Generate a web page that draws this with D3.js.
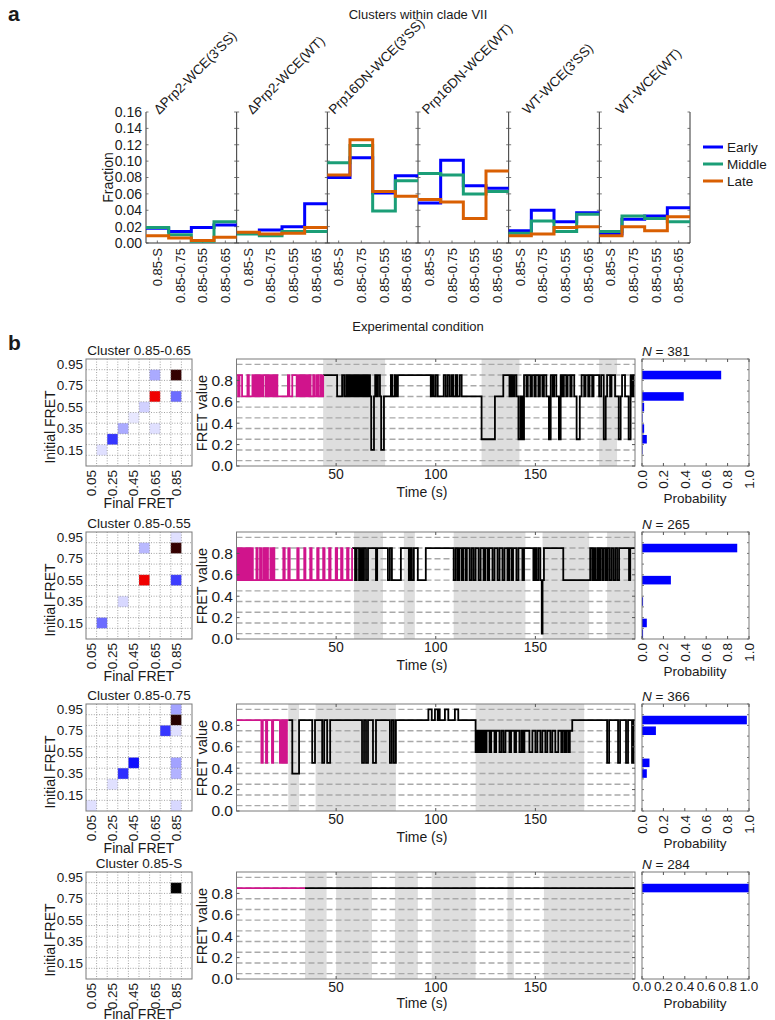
<!DOCTYPE html>
<meta charset="utf-8">
<script src="https://d3js.org/d3.v7.min.js"></script>
<style>
body { margin: 0; background: #fff; }
svg text { font-family: "Liberation Sans", Arial, sans-serif; fill: #1a1a1a; }
</style>
<div id="fig"></div>
<script>
// ---------- panel a data ----------
var conditions = ["\u0394Prp2-WCE(3'SS)", "\u0394Prp2-WCE(WT)", "Prp16DN-WCE(3'SS)",
                  "Prp16DN-WCE(WT)", "WT-WCE(3'SS)", "WT-WCE(WT)"];
var clusterNames = ["0.85-S", "0.85-0.75", "0.85-0.55", "0.85-0.65"];
var fractionTicks = [0, 0.02, 0.04, 0.06, 0.08, 0.10, 0.12, 0.14, 0.16];
var seriesNames = ["Early", "Middle", "Late"];
var early = [0.018, 0.014, 0.019, 0.022,  0.012, 0.016, 0.020, 0.048,
             0.080, 0.104, 0.061, 0.082,  0.049, 0.101, 0.070, 0.067,
             0.015, 0.040, 0.026, 0.037,  0.011, 0.029, 0.033, 0.043];
var middle = [0.019, 0.010, 0.002, 0.026,  0.011, 0.009, 0.014, 0.014,
              0.098, 0.119, 0.039, 0.076,  0.085, 0.083, 0.060, 0.063,
              0.012, 0.027, 0.014, 0.035,  0.014, 0.033, 0.030, 0.026];
var late = [0.009, 0.006, 0.003, 0.007,  0.013, 0.011, 0.012, 0.019,
            0.083, 0.126, 0.063, 0.057,  0.053, 0.050, 0.030, 0.088,
            0.009, 0.011, 0.019, 0.020,  0.009, 0.020, 0.015, 0.032];

// ---------- panel b data ----------
var rowClusters = ["Cluster 0.85-0.65", "Cluster 0.85-0.55", "Cluster 0.85-0.75", "Cluster 0.85-S"];
var rowN = [381, 265, 366, 284];
var fretLevels = [0.05, 0.15, 0.25, 0.35, 0.45, 0.55, 0.65, 0.75, 0.85, 0.95];
var heatTicks = [0.05, 0.25, 0.45, 0.65, 0.85];
var heatYTicks = [0.15, 0.35, 0.55, 0.75, 0.95];
var fretTicks = [0, 0.2, 0.4, 0.6, 0.8];
var timeTicks = [50, 100, 150];
var probTicks = [0, 0.2, 0.4, 0.6, 0.8, 1.0];

// transition density maps: [final FRET, initial FRET, intensity 0..1]
var heat1 = [[0.85, 0.85, 0.93], [0.65, 0.85, 0.11], [0.65, 0.65, 0.68], [0.85, 0.65, 0.19],
             [0.55, 0.55, 0.06], [0.45, 0.45, 0.03], [0.35, 0.35, 0.11], [0.65, 0.35, 0.04],
             [0.25, 0.25, 0.26], [0.15, 0.15, 0.04]];
var heat2 = [[0.85, 0.95, 0.04], [0.85, 0.85, 0.93], [0.55, 0.85, 0.09], [0.55, 0.55, 0.68],
             [0.85, 0.55, 0.25], [0.35, 0.35, 0.05], [0.15, 0.15, 0.19]];
var heat3 = [[0.85, 0.95, 0.12], [0.85, 0.85, 0.95], [0.75, 0.75, 0.26], [0.85, 0.75, 0.04],
             [0.45, 0.45, 0.31], [0.35, 0.35, 0.27], [0.85, 0.45, 0.12], [0.85, 0.35, 0.10],
             [0.25, 0.25, 0.04], [0.05, 0.05, 0.04], [0.85, 0.05, 0.05]];
var heat4 = [[0.85, 0.85, 1.0]];

// shaded time windows (s)
var shade1 = [[43.5, 74.6], [123, 142], [182, 191]];
var shade2 = [[59, 73.5], [84, 89.5], [109, 145], [153.6, 177], [186, 200]];
var shade3 = [[26, 31.4], [39.7, 80], [120, 174.5]];
var shade4 = [[34.4, 45.2], [50, 68], [79.5, 91], [98, 120], [136, 139.2], [154.3, 199]];

// end of the magenta (first) segment of each trace
var magentaEnd = [43.5, 58, 26, 34.4];

// idealised FRET traces: [time (s), FRET level from that time on]
var trace1 = [[0, 0.85], [0.8, 0.65], [1.5, 0.85], [2.8, 0.65], [5.5, 0.85], [6.2, 0.65], [8, 0.85], [8.6, 0.65],
  [9.3, 0.85], [10, 0.65], [10.6, 0.85], [11.4, 0.65], [12, 0.85], [12.7, 0.65], [13.4, 0.85], [14.6, 0.65],
  [15.5, 0.85], [16.2, 0.65], [17, 0.85], [17.6, 0.65], [18.4, 0.85], [19, 0.65], [19.8, 0.85], [20.5, 0.65],
  [25.8, 0.85], [26.5, 0.65], [28, 0.85], [30.2, 0.65], [30.8, 0.85], [31.5, 0.65], [32.3, 0.85], [33, 0.65],
  [33.5, 0.85], [34.2, 0.65], [35, 0.85], [35.6, 0.65], [36.3, 0.85], [37.2, 0.65], [38.5, 0.85], [39.2, 0.65],
  [40.2, 0.85], [41, 0.65], [42, 0.85], [42.8, 0.65], [43.5, 0.85],
  [50.5, 0.65], [53, 0.85], [54, 0.65], [55, 0.85], [55.8, 0.65], [56.5, 0.85], [57.2, 0.65], [58, 0.85],
  [58.6, 0.65], [59.2, 0.85], [60, 0.65], [60.6, 0.85], [61.4, 0.65], [62, 0.85], [62.8, 0.65], [63.4, 0.85],
  [64, 0.65], [64.8, 0.85], [65.5, 0.65], [66.2, 0.85], [67, 0.65], [67.6, 0.15], [69, 0.65], [69.6, 0.85],
  [70.5, 0.65], [71, 0.85], [72, 0.65], [72.6, 0.15], [74, 0.65], [77.5, 0.85], [78.3, 0.65], [79.5, 0.85],
  [80.2, 0.65], [81, 0.85], [97.5, 0.65], [98.2, 0.85], [99, 0.65], [100, 0.85], [101, 0.65], [104, 0.85],
  [105, 0.65], [106, 0.85], [107, 0.65], [108, 0.85], [108.8, 0.65], [110, 0.85], [110.8, 0.65], [112, 0.85],
  [113, 0.65], [123, 0.25], [129.7, 0.65], [133.9, 0.85], [137, 0.65], [137.8, 0.85], [138.6, 0.65],
  [139.5, 0.85], [140.5, 0.65], [141.5, 0.25], [142.5, 0.65], [143.4, 0.25], [144.3, 0.85], [145.5, 0.65],
  [146.2, 0.85], [147.5, 0.65], [148.3, 0.85], [149.5, 0.65], [150.2, 0.85], [151.5, 0.65], [152.3, 0.85],
  [153.5, 0.65], [154.3, 0.85], [155.5, 0.65], [156.8, 0.25], [157.7, 0.85], [158.7, 0.65], [159.4, 0.85],
  [160.5, 0.65], [161.8, 0.25], [162.7, 0.85], [163.6, 0.65], [164.3, 0.85], [165.5, 0.65], [166.2, 0.85],
  [167.5, 0.65], [168.2, 0.85], [169.5, 0.65], [170.7, 0.25], [172.3, 0.65], [173.2, 0.85], [174.5, 0.65],
  [175.2, 0.85], [176.5, 0.65], [177.2, 0.85], [178.5, 0.65], [179.2, 0.85], [182, 0.65], [183, 0.85],
  [184.3, 0.25], [185.3, 0.65], [186, 0.85], [187.5, 0.65], [188.2, 0.85], [190, 0.65], [191.8, 0.25],
  [192.8, 0.65], [193.5, 0.85], [195, 0.65], [196.8, 0.25], [197.8, 0.85], [198.6, 0.65], [199.3, 0.85]];

var trace2 = [[0, 0.85], [0.5, 0.55], [1.2, 0.85], [1.8, 0.55], [2.5, 0.85], [3, 0.55], [3.6, 0.85], [4.2, 0.55],
  [4.9, 0.85], [5.5, 0.55], [6.1, 0.85], [6.8, 0.55], [7.4, 0.85], [8.2, 0.55], [10, 0.85], [10.6, 0.55],
  [11.8, 0.85], [12.5, 0.55], [13.5, 0.85], [14.2, 0.55], [15, 0.85], [15.8, 0.55], [17, 0.85], [17.7, 0.55],
  [18.3, 0.85], [19, 0.55], [23.5, 0.85], [24.2, 0.55], [26, 0.85], [26.7, 0.55], [30.5, 0.85], [31.2, 0.55],
  [34, 0.85], [34.6, 0.55], [37, 0.85], [37.7, 0.55], [40.5, 0.85], [41.2, 0.55], [43.5, 0.85], [44.2, 0.55],
  [46.5, 0.85], [47.2, 0.55], [49.8, 0.85], [50.5, 0.55], [52.5, 0.85], [53.2, 0.55], [55.5, 0.85], [56.2, 0.55],
  [58, 0.85],
  [59.5, 0.55], [60.3, 0.85], [61.5, 0.55], [62.3, 0.85], [63.2, 0.55], [64, 0.85], [65, 0.55], [66, 0.85],
  [70, 0.55], [70.6, 0.85], [76, 0.55], [77, 0.85], [78, 0.55], [82.5, 0.85], [86.5, 0.55], [87.3, 0.85],
  [88, 0.55], [89, 0.85], [91, 0.55], [95, 0.85], [109, 0.55], [110, 0.85], [111, 0.55], [111.8, 0.85],
  [113, 0.55], [113.8, 0.85], [115, 0.55], [115.6, 0.85], [117, 0.55], [118, 0.85], [119, 0.55], [120, 0.85],
  [121.5, 0.55], [122.5, 0.85], [124, 0.55], [124.8, 0.85], [126, 0.55], [126.8, 0.85], [128.5, 0.55],
  [129.5, 0.85], [131, 0.55], [132, 0.85], [133.5, 0.55], [134.5, 0.85], [136, 0.55], [136.8, 0.85],
  [138, 0.55], [138.8, 0.85], [140.5, 0.55], [141.5, 0.85], [143.5, 0.55], [144.3, 0.85], [149, 0.55],
  [149.6, 0.85], [150.5, 0.55], [151.5, 0.85], [152.5, 0.55], [153.2, 0.05], [153.6, 0.55], [154.3, 0.85],
  [164, 0.55], [177.5, 0.85], [178.5, 0.55], [179.2, 0.85], [180, 0.55], [181, 0.85], [181.8, 0.55],
  [182.5, 0.85], [183.5, 0.55], [184.2, 0.85], [185.2, 0.55], [186, 0.85], [187, 0.55], [188, 0.85],
  [189, 0.55], [190, 0.85], [191, 0.55], [192, 0.85], [197, 0.55], [197.6, 0.85]];

var trace3 = [[0, 0.85], [12.5, 0.45], [13.2, 0.85], [14.8, 0.45], [15.4, 0.85], [17.8, 0.45], [18.4, 0.85],
  [21.8, 0.45], [22.3, 0.85], [22.8, 0.45], [23.3, 0.85], [23.8, 0.45], [24.3, 0.85], [24.8, 0.45], [25.3, 0.85],
  [28, 0.35], [31.4, 0.85], [38, 0.45], [39.4, 0.85], [43, 0.45], [44, 0.85], [45.5, 0.45], [47, 0.85],
  [63, 0.45], [64, 0.85], [65, 0.45], [66, 0.85], [68.5, 0.45], [70, 0.85], [77, 0.45], [78, 0.85],
  [79, 0.45], [80, 0.85], [96.3, 0.95], [98, 0.85], [99.6, 0.95], [101, 0.85], [101.5, 0.95], [102, 0.85],
  [104.6, 0.95], [106.3, 0.85], [109.6, 0.95], [111.3, 0.85], [120, 0.55], [120.8, 0.75], [121.5, 0.55],
  [122.2, 0.75], [123, 0.55], [123.8, 0.75], [124.6, 0.55], [125.5, 0.75], [127, 0.55], [127.8, 0.75],
  [129.5, 0.55], [130.3, 0.75], [132, 0.55], [133, 0.75], [134, 0.55], [135, 0.75], [137, 0.55], [137.8, 0.75],
  [139.5, 0.55], [140.3, 0.75], [142, 0.55], [143, 0.75], [143.8, 0.55], [144.5, 0.75], [147, 0.55],
  [148.5, 0.75], [150, 0.55], [151, 0.75], [152.5, 0.55], [153.5, 0.75], [155, 0.55], [156, 0.75],
  [157.5, 0.55], [158.5, 0.75], [160, 0.55], [161.5, 0.75], [163, 0.55], [163.8, 0.75], [164.8, 0.55],
  [165.5, 0.75], [166.5, 0.55], [167.3, 0.75], [168.5, 0.85], [186, 0.45], [187, 0.85], [191.5, 0.45],
  [192.5, 0.85], [195.5, 0.45], [196.5, 0.85], [198.5, 0.45], [199.3, 0.85]];

var trace4 = [[0, 0.85]];

// FRET occupancy histograms (probability per level 0.05 ... 0.95)
var prob1 = [0, 0.005, 0.045, 0.02, 0.005, 0.02, 0.39, 0, 0.74, 0];
var prob2 = [0.01, 0.045, 0, 0.01, 0, 0.27, 0, 0, 0.89, 0];
var prob3 = [0, 0, 0, 0.045, 0.07, 0, 0, 0.13, 0.98, 0];
var prob4 = [0, 0, 0, 0, 0, 0, 0, 0, 1.0, 0];

var heats = [heat1, heat2, heat3, heat4];
var shades = [shade1, shade2, shade3, shade4];
var traces = [trace1, trace2, trace3, trace4];
var probs = [prob1, prob2, prob3, prob4];

var seriesColor = d3.scaleOrdinal().domain(seriesNames).range(["#0000ff", "#1b9e77", "#d95f02"]);
var heatColor = d3.scaleLinear().domain([0, 0.33, 0.66, 1]).range(["#ffffff", "#0000ff", "#ff0000", "#000000"]);

var svg = d3.select("#fig").append("svg")
    .attr("width", 775)
    .attr("height", 1020);

function label(x, y, txt, size, anchor) {
  return svg.append("text")
    .attr("x", x).attr("y", y)
    .style("font-size", size + "px")
    .style("text-anchor", anchor || "start")
    .text(txt);
}

// ===================== panel a =====================
var xa = d3.scaleLinear().domain([0, 24]).range([146, 690]);
var ya = d3.scaleLinear().domain([0, 0.16]).range([243, 112]);

label(8, 21, "a", 21).style("font-weight", "bold");
label(418, 19, "Clusters within clade VII", 13, "middle");

// panel separators
d3.range(7).forEach(function(p) {
  svg.append("line")
    .attr("x1", xa(4 * p)).attr("x2", xa(4 * p))
    .attr("y1", ya(0.16)).attr("y2", ya(0))
    .attr("stroke", "#333").attr("stroke-width", 1);
  fractionTicks.forEach(function(t) {
    svg.append("line")
      .attr("x1", xa(4 * p) - (p > 0 ? 2.5 : 0)).attr("x2", xa(4 * p) + (p < 6 ? 2.5 : 0))
      .attr("y1", ya(t)).attr("y2", ya(t))
      .attr("stroke", "#555").attr("stroke-width", 0.8);
  });
});

svg.append("line")
  .attr("x1", xa(0)).attr("x2", xa(24))
  .attr("y1", ya(0)).attr("y2", ya(0))
  .attr("stroke", "#333");

// y axis labels
fractionTicks.forEach(function(t) {
  label(142, ya(t), d3.format(".2f")(t), 14, "end").attr("dy", "0.35em");
});
svg.append("text")
  .attr("transform", "translate(113," + ya(0.08) + ") rotate(-90)")
  .style("font-size", "14px").style("text-anchor", "middle")
  .text("Fraction");

// rotated condition names
conditions.forEach(function(c, p) {
  var t = svg.append("text")
    .style("font-size", "13.5px")
    .text(c);
  var half = t.node().getComputedTextLength() / 2 * Math.SQRT1_2;
  var x0 = (xa(4 * p) + xa(4 * p + 4)) / 2 + 7 - half;
  t.attr("transform", "translate(" + x0 + ",115) rotate(-45)");
});

// category labels
d3.range(24).forEach(function(k) {
  var x = xa(k + 0.5);
  svg.append("line")
    .attr("x1", x).attr("x2", x).attr("y1", ya(0)).attr("y2", ya(0) - 2.5)
    .attr("stroke", "#555").attr("stroke-width", 0.8);
  svg.append("text")
    .attr("transform", "translate(" + x + ",248) rotate(-90)")
    .attr("dy", "0.35em")
    .style("font-size", "13px").style("text-anchor", "end")
    .text(clusterNames[k % 4]);
});

// step lines
var stepLine = d3.line()
  .x(function(d) { return xa(d[0]); })
  .y(function(d) { return ya(d[1]); })
  .curve(d3.curveStepAfter);

[early, middle, late].forEach(function(vals, s) {
  d3.range(6).forEach(function(p) {
    var pts = vals.slice(4 * p, 4 * p + 4).map(function(v, i) { return [4 * p + i, v]; });
    pts.push([4 * p + 4, pts[3][1]]);
    svg.append("path")
      .datum(pts)
      .attr("d", stepLine)
      .attr("fill", "none")
      .attr("stroke", seriesColor(seriesNames[s]))
      .attr("stroke-width", 3);
  });
});

// legend
seriesNames.forEach(function(n, i) {
  var y = 147 + i * 17;
  svg.append("line")
    .attr("x1", 703).attr("x2", 723).attr("y1", y).attr("y2", y)
    .attr("stroke", seriesColor(n)).attr("stroke-width", 3);
  label(727, y, n, 13.5).attr("dy", "0.35em");
});

label(418, 331, "Experimental condition", 13, "middle");

// ===================== panel b =====================
label(8, 350, "b", 21).style("font-weight", "bold");

var rowTop = [359, 532, 704, 872];
var rowH = 107;

var line = d3.line()
  .x(function(d) { return d[0]; })
  .y(function(d) { return d[1]; })
  .curve(d3.curveStepAfter);

rowTop.forEach(function(top, r) {
  var bottom = top + rowH;

  // ---- transition density map ----
  var hx = d3.scaleLinear().domain([0, 1]).range([86, 192]);
  var hy = d3.scaleLinear().domain([0, 1]).range([bottom, top]);

  svg.append("g").selectAll("rect")
    .data(heats[r])
    .enter().append("rect")
      .attr("x", function(d) { return hx(d[0] - 0.05); })
      .attr("y", function(d) { return hy(d[1] + 0.05); })
      .attr("width", hx(0.1) - hx(0))
      .attr("height", hy(0) - hy(0.1))
      .attr("fill", function(d) { return heatColor(d[2]); });

  d3.range(1, 10).forEach(function(i) {
    svg.append("line")
      .attr("x1", hx(i / 10)).attr("x2", hx(i / 10)).attr("y1", top).attr("y2", bottom)
      .attr("stroke", "#8a8a8a").attr("stroke-width", 0.8).attr("stroke-dasharray", "1,1.6");
    svg.append("line")
      .attr("x1", hx(0)).attr("x2", hx(1)).attr("y1", hy(i / 10)).attr("y2", hy(i / 10))
      .attr("stroke", "#8a8a8a").attr("stroke-width", 0.8).attr("stroke-dasharray", "1,1.6");
  });
  svg.append("rect")
    .attr("x", hx(0)).attr("y", top).attr("width", hx(1) - hx(0)).attr("height", rowH)
    .attr("fill", "none").attr("stroke", "#7a7a7a");

  label(139, top - 4, rowClusters[r], 13.5, "middle");
  heatYTicks.forEach(function(t) {
    label(83, hy(t), t.toFixed(2), 13.5, "end").attr("dy", "0.35em");
  });
  heatTicks.forEach(function(t) {
    svg.append("text")
      .attr("transform", "translate(" + hx(t) + "," + (bottom + 4) + ") rotate(-90)")
      .attr("dy", "0.35em")
      .style("font-size", "13.5px").style("text-anchor", "end")
      .text(t.toFixed(2));
  });
  // the last row's axis title runs off the bottom edge, as in the original figure
  label(139, bottom + (r === 3 ? 40 : 42), "Final FRET", 14, "middle");
  svg.append("text")
    .attr("transform", "translate(55," + (top + 68) + ") rotate(-90)")
    .style("font-size", "14px").style("text-anchor", "middle")
    .text("Initial FRET");

  // ---- FRET trace ----
  var tx = d3.scaleLinear().domain([0, 200]).range([236.5, 635]);
  var ty = d3.scaleLinear().domain([0, 1]).range([bottom, top]);

  svg.append("g").selectAll("rect")
    .data(shades[r])
    .enter().append("rect")
      .attr("x", function(d) { return tx(d[0]); })
      .attr("y", top)
      .attr("width", function(d) { return tx(d[1]) - tx(d[0]); })
      .attr("height", rowH)
      .attr("fill", "#dedede");

  fretLevels.forEach(function(f) {
    svg.append("line")
      .attr("x1", tx(0)).attr("x2", tx(200)).attr("y1", ty(f)).attr("y2", ty(f))
      .attr("stroke", "#a9a9a9").attr("stroke-width", 1.4).attr("stroke-dasharray", "6,3");
  });

  // split the trace at the end of the magenta segment
  var tr = traces[r], tEnd = magentaEnd[r];
  var first = [], rest = [];
  var vEnd = tr[0][1];
  tr.forEach(function(d) {
    if (d[0] < tEnd) { first.push(d); vEnd = d[1]; }
    else rest.push(d);
  });
  if (rest.length && rest[0][0] === tEnd) vEnd = rest[0][1];
  first.push([tEnd, vEnd]);
  if (!rest.length || rest[0][0] > tEnd) rest.unshift([tEnd, vEnd]);
  rest.push([200, rest[rest.length - 1][1]]);

  svg.append("path")
    .datum(rest.map(function(d) { return [tx(d[0]), ty(d[1])]; }))
    .attr("d", line)
    .attr("fill", "none").attr("stroke", "#000").attr("stroke-width", 1.8);
  svg.append("path")
    .datum(first.map(function(d) { return [tx(d[0]), ty(d[1])]; }))
    .attr("d", line)
    .attr("fill", "none").attr("stroke", "#d0148c").attr("stroke-width", 1.8);

  svg.append("rect")
    .attr("x", tx(0)).attr("y", top).attr("width", tx(200) - tx(0)).attr("height", rowH)
    .attr("fill", "none").attr("stroke", "#7a7a7a");
  timeTicks.forEach(function(t) {
    svg.append("line").attr("x1", tx(t)).attr("x2", tx(t)).attr("y1", bottom).attr("y2", bottom - 3)
      .attr("stroke", "#555");
    svg.append("line").attr("x1", tx(t)).attr("x2", tx(t)).attr("y1", top).attr("y2", top + 3)
      .attr("stroke", "#555");
    label(tx(t), bottom + 13, t, 14, "middle");
  });
  fretTicks.forEach(function(f) {
    svg.append("line").attr("x1", tx(0)).attr("x2", tx(0) + 3).attr("y1", ty(f)).attr("y2", ty(f))
      .attr("stroke", "#555");
    svg.append("line").attr("x1", tx(200)).attr("x2", tx(200) - 3).attr("y1", ty(f)).attr("y2", ty(f))
      .attr("stroke", "#555");
    label(233, ty(f), f.toFixed(1), 15.5, "end").attr("dy", "0.35em");
  });
  label(422, bottom + (r === 3 ? 29 : 31), "Time (s)", 14, "middle");
  svg.append("text")
    .attr("transform", "translate(207," + (top + 54) + ") rotate(-90)")
    .style("font-size", "14.5px").style("text-anchor", "middle")
    .text("FRET value");

  // ---- occupancy histogram ----
  var bx = d3.scaleLinear().domain([0, 1]).range([642, 749]);

  svg.append("g").selectAll("rect")
    .data(probs[r])
    .enter().append("rect")
      .attr("x", bx(0))
      .attr("y", function(d, i) { return ty(fretLevels[i] + 0.04); })
      .attr("width", function(d) { return bx(d) - bx(0); })
      .attr("height", ty(0) - ty(0.08))
      .attr("fill", "#0000ff");

  svg.append("rect")
    .attr("x", bx(0)).attr("y", top).attr("width", bx(1) - bx(0)).attr("height", rowH)
    .attr("fill", "none").attr("stroke", "#7a7a7a");
  probTicks.forEach(function(p) {
    svg.append("line").attr("x1", bx(p)).attr("x2", bx(p)).attr("y1", bottom).attr("y2", bottom - 3)
      .attr("stroke", "#555");
    svg.append("line").attr("x1", bx(p)).attr("x2", bx(p)).attr("y1", top).attr("y2", top + 3)
      .attr("stroke", "#555");
    if (r === 3) {
      label(bx(p), bottom + 12, p.toFixed(1), 13.5, "middle");
    } else {
      svg.append("text")
        .attr("transform", "translate(" + bx(p) + "," + (bottom + 4) + ") rotate(-90)")
        .attr("dy", "0.35em")
        .style("font-size", "13.5px").style("text-anchor", "end")
        .text(p.toFixed(1));
    }
  });
  d3.range(0, 1.01, 0.1).forEach(function(f) {
    svg.append("line").attr("x1", bx(0)).attr("x2", bx(0) + 2).attr("y1", ty(f)).attr("y2", ty(f))
      .attr("stroke", "#777");
    svg.append("line").attr("x1", bx(1)).attr("x2", bx(1) - 2).attr("y1", ty(f)).attr("y2", ty(f))
      .attr("stroke", "#777");
  });
  var nt = label(642, top - 3, "", 13.5);
  nt.append("tspan").style("font-style", "italic").text("N");
  nt.append("tspan").text(" = " + rowN[r]);
  label(695, bottom + (r === 3 ? 29 : 37), "Probability", 13.5, "middle");
});
</script>
